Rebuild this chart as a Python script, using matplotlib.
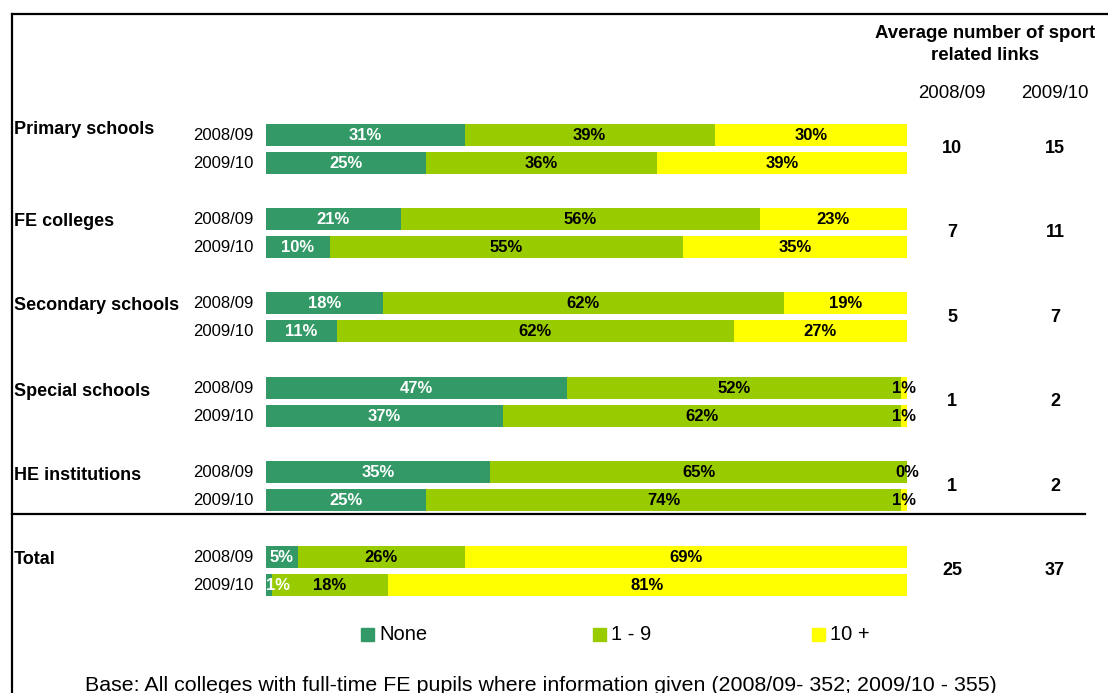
import matplotlib
matplotlib.use('Agg')
import matplotlib.pyplot as plt
from matplotlib.lines import Line2D
from matplotlib.patches import Rectangle

plt.rcParams['font.family'] = ['Liberation Sans', 'DejaVu Sans']

# dados
grupos = ['Primary schools', 'FE colleges', 'Secondary schools', 'Special schools', 'HE institutions', 'Total']
anos = ['2008/09', '2009/10']
nenhum = [[31, 25], [21, 10], [18, 11], [47, 37], [35, 25], [5, 1]]
um_a_nove = [[39, 36], [56, 55], [62, 62], [52, 62], [65, 74], [26, 18]]
dez_mais = [[30, 39], [23, 35], [19, 27], [1, 1], [0, 1], [69, 81]]
media_links = [[10, 15], [7, 11], [5, 7], [1, 2], [1, 2], [25, 37]]
legenda = ['None', '1 - 9', '10 +']
cores = ['#339966', '#99CC00', '#FFFF00']
cores_texto = ['white', 'black', 'black']

W, H = 1108, 693
fig = plt.figure(figsize=(W / 100, H / 100), dpi=100)


def fx(x):
    return x / W


def fy(y):
    return 1 - y / H


ax = fig.add_axes([266 / W, 0, 641 / W, 1])
ax.set_xlim(0, 100)
ax.set_ylim(H, 0)
ax.axis('off')

y0, passo_ano, passo_grupo, altura = 134.5, 28, 84.4, 22
ajuste_rotulo = [-4.5, 3, 2, 3.5, 3, 3.5]

for g, nome in enumerate(grupos):
    ys = []
    for k in range(2):
        y = y0 + g * passo_grupo + k * passo_ano
        ys.append(y)
        vals = [nenhum[g][k], um_a_nove[g][k], dez_mais[g][k]]
        total = sum(vals)
        esq = 0
        for i, v in enumerate(vals):
            larg = v / total * 100
            ax.barh(y, larg, left=esq, height=altura, color=cores[i], linewidth=0)
            centro = esq + larg / 2
            if i == 0 and larg < 2:
                # rótulo muito estreito: encosta no início da barra
                ax.text(0, y + 0.5, f'{v}%', ha='left', va='center', fontsize=12,
                        fontweight='bold', color=cores_texto[i], clip_on=False)
            else:
                ax.text(centro, y + 0.5, f'{v}%', ha='center', va='center',
                        fontsize=12, fontweight='bold', color=cores_texto[i], clip_on=False)
            esq += larg
        fig.text(fx(254), fy(y + 0.5), anos[k], ha='right', va='center', fontsize=12)
    fig.text(fx(14), fy(ys[0] + ajuste_rotulo[g]), nome, ha='left', va='center',
             fontsize=13, fontweight='bold')
    meio = (ys[0] + ys[1]) / 2
    fig.text(fx(952), fy(meio), str(media_links[g][0]), ha='center', va='center',
             fontsize=13, fontweight='bold')
    fig.text(fx(1055), fy(meio), str(media_links[g][1]), ha='center', va='center',
             fontsize=13, fontweight='bold')

# cabeçalho da coluna de médias
fig.text(fx(985), fy(33), 'Average number of sport', ha='center', va='center',
         fontsize=13.4, fontweight='bold')
fig.text(fx(985), fy(55), 'related links', ha='center', va='center',
         fontsize=13.4, fontweight='bold')
fig.text(fx(952), fy(93), anos[0], ha='center', va='center', fontsize=13.4)
fig.text(fx(1055), fy(93), anos[1], ha='center', va='center', fontsize=13.4)

# moldura e linha separadora
fig.add_artist(Line2D([fx(12), fx(1108)], [fy(14), fy(14)], color='black', lw=1.6))
fig.add_artist(Line2D([fx(12), fx(12)], [fy(14), fy(693)], color='black', lw=1.6))
fig.add_artist(Line2D([fx(12), fx(1085)], [fy(514), fy(514)], color='black', lw=1.6))

# legenda
pos_legenda = [361, 593, 812]
for i, nome in enumerate(legenda):
    x = pos_legenda[i]
    fig.add_artist(Rectangle((fx(x), fy(641)), 13 / W, 13 / H, color=cores[i],
                             transform=fig.transFigure))
    fig.text(fx(x + 18), fy(635), nome, ha='left', va='center', fontsize=14.5)

fig.text(fx(541), fy(691),
         'Base: All colleges with full-time FE pupils where information given (2008/09- 352; 2009/10 - 355)',
         ha='center', va='baseline', fontsize=15.4)

fig.savefig('out.png', dpi=100)
